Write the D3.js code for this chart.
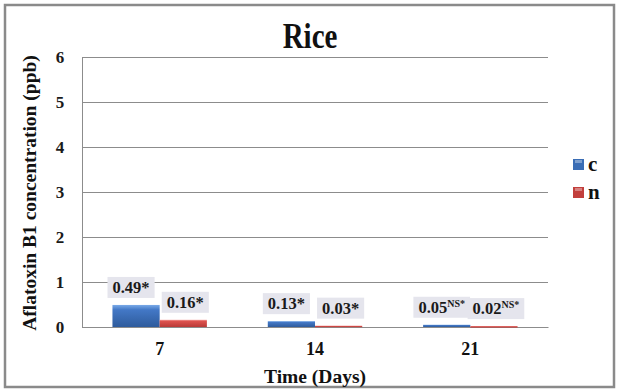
<!DOCTYPE html>
<html><head><meta charset="utf-8">
<script src="https://cdn.jsdelivr.net/npm/d3@7"></script>
<style>body{margin:0;background:#fff}svg{display:block}</style>
</head><body><svg id="c" width="621" height="392"></svg>
<script>
const categories = ["7", "14", "21"];
const seriesNames = ["c", "n"];
const cValues = [0.49, 0.13, 0.05];
const nValues = [0.16, 0.03, 0.02];
const cLabels = ["0.49", "0.13", "0.05"];
const cSup = ["*", "*", "NS*"];
const nLabels = ["0.16", "0.03", "0.02"];
const nSup = ["*", "*", "NS*"];
const yTicks = [0, 1, 2, 3, 4, 5, 6];

(function () {
const FONT = "'Liberation Serif','Times New Roman',serif";
const svg = d3.select("#c");
const defs = svg.append("defs");
function grad(id, c1, c2, c3) {
  const g = defs.append("linearGradient").attr("id", id).attr("x1", 0).attr("y1", 0).attr("x2", 0).attr("y2", 1);
  g.append("stop").attr("offset", "0%").attr("stop-color", c1);
  g.append("stop").attr("offset", "22%").attr("stop-color", c2);
  g.append("stop").attr("offset", "100%").attr("stop-color", c3);
}
grad("gc", "#7aaae8", "#4378c6", "#2e5b9c");
grad("gn", "#f39a96", "#dc514d", "#b93a37");
const fills = ["url(#gc)", "url(#gn)"];
const legendFill = ["#3a6db5", "#c23f3c"];

function txt(sel) { return sel.style("font-family", FONT).style("font-weight", "bold"); }

svg.append("rect").attr("x", 5).attr("y", 5).attr("width", 609).attr("height", 382)
  .attr("fill", "#fff").attr("stroke", "#8a8a8a").attr("stroke-width", 2.5);

const pL = 82, pR = 548, pT = 57, pB = 327;
const x = d3.scaleBand().domain(categories).range([pL, pR]).paddingInner(0).paddingOuter(0);
const xs = d3.scaleBand().domain(seriesNames).range([0, x.bandwidth()]).paddingInner(0).paddingOuter(0.645);
const y = d3.scaleLinear().domain([0, 6]).range([pB, pT]);

const yAxis = d3.axisLeft(y).tickValues(yTicks).tickSize(-(pR - pL)).tickFormat(d3.format("d")).tickPadding(17);
const gy = svg.append("g").attr("transform", `translate(${pL},0)`).call(yAxis);
gy.select(".domain").attr("stroke", "#8c8c8c");
gy.selectAll(".tick line").attr("stroke", "#8c8c8c");
txt(gy.selectAll(".tick text")).style("font-size", "17px").attr("fill", "#1a1a1a").attr("text-anchor", "middle").attr("x", -22);

const xAxis = d3.axisBottom(x).tickSize(0).tickPadding(15);
const gx = svg.append("g").attr("transform", `translate(0,${pB})`).call(xAxis);
gx.select(".domain").attr("stroke", "#8c8c8c");
txt(gx.selectAll(".tick text")).style("font-size", "18px").attr("fill", "#111");

const series = [cValues, nValues];
const labels = [cLabels, nLabels];
const sups = [cSup, nSup];

series.forEach((vals, si) => {
  svg.append("g").selectAll("rect").data(vals).join("rect")
    .attr("x", (d, i) => x(categories[i]) + xs(seriesNames[si]))
    .attr("y", d => y(d))
    .attr("width", xs.bandwidth())
    .attr("height", d => Math.max(1.5, y(0) - y(d)))
    .attr("fill", fills[si]);
});

series.forEach((vals, si) => {
  vals.forEach((v, i) => {
    const cx = x(categories[i]) + xs(seriesNames[si]) + xs.bandwidth() / 2 + (si === 0 ? -5 : 2);
    const cy = y(v) - 17.5;
    const g = svg.append("g");
    const bg = g.append("rect").attr("fill", "#e5e5ed");
    const t = txt(g.append("text")).attr("x", cx).attr("y", cy + 5.5).attr("text-anchor", "middle").style("font-size", "16.5px").attr("fill", "#1a1a1a");
    t.append("tspan").text(labels[si][i]);
    const sup = sups[si][i];
    if (sup.length > 1) {
      t.append("tspan").attr("dy", -6).style("font-size", "10px").text(sup);
    } else {
      t.append("tspan").text(sup);
    }
    const bb = t.node().getBBox();
    bg.attr("x", bb.x - 5).attr("y", cy - 10.5).attr("width", bb.width + 10).attr("height", 21);
  });
});

txt(svg.append("text")).attr("transform", "translate(310,48) scale(1,1.2)").attr("text-anchor", "middle").style("font-size", "29px").attr("fill", "#111").text("Rice");

txt(svg.append("text")).attr("transform", "translate(36,193) rotate(-90)").attr("text-anchor", "middle")
  .style("font-size", "19.5px").attr("fill", "#111").text("Aflatoxin B1 concentration (ppb)");
txt(svg.append("text")).attr("x", 315).attr("y", 383).attr("text-anchor", "middle").style("font-size", "19.5px").attr("fill", "#111").text("Time (Days)");

seriesNames.forEach((s, i) => {
  const ly = 159 + i * 28;
  svg.append("rect").attr("x", 573).attr("y", ly).attr("width", 11).attr("height", 11).attr("fill", legendFill[i]);
  svg.append("rect").attr("x", 575).attr("y", ly + 1).attr("width", 7).attr("height", 3).attr("fill", "#fff").attr("opacity", 0.35);
  txt(svg.append("text")).attr("x", 588).attr("y", ly + 11.5).style("font-size", "21px").attr("fill", "#111").text(s);
});
})();
</script></body></html>
